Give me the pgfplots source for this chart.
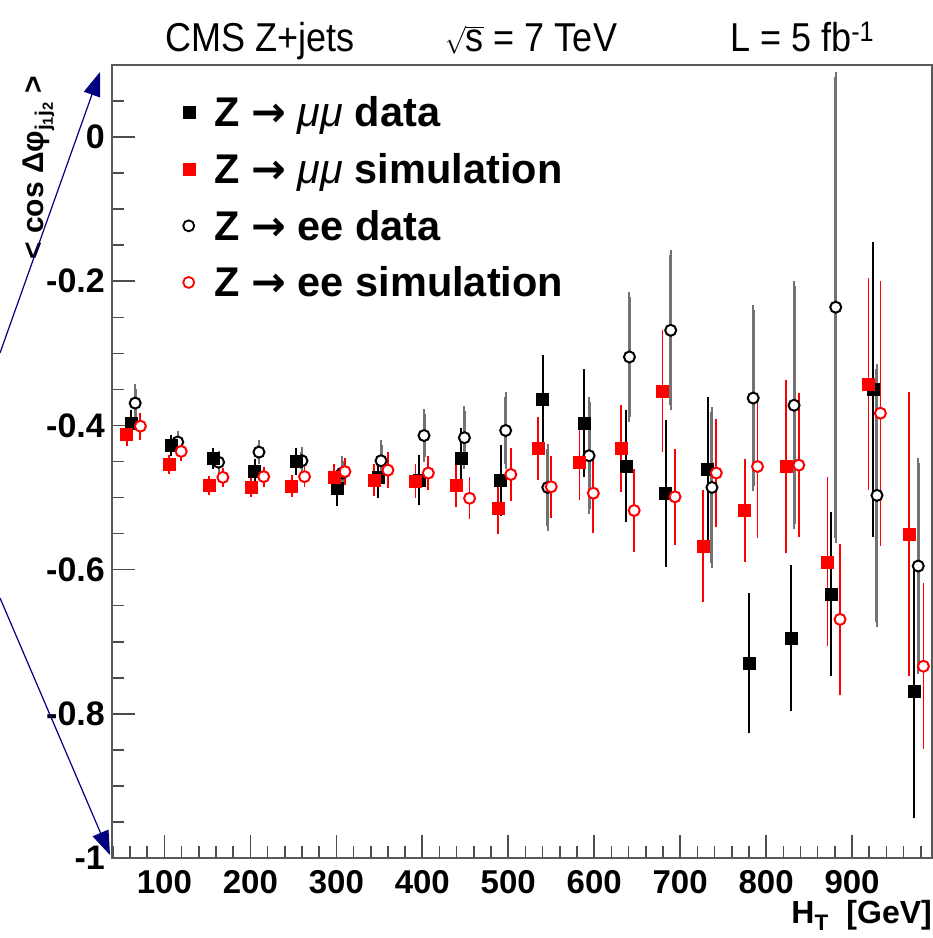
\documentclass[border=0pt]{standalone}
\usepackage{fontspec}
\setmainfont{Liberation Sans}
\newfontfamily\djv{DejaVu Sans}
\usepackage{pgfplots}
\pgfplotsset{compat=1.18}
\usepackage{pgfplotstable}
\usetikzlibrary{arrows.meta}
\definecolor{navy}{RGB}{0,0,128}
\definecolor{rootred}{RGB}{255,0,0}
\newcommand{\arr}{{\djv\bfseries →}}

\pgfplotstableread{
x y e
61 -0.397 0.012
108 -0.428 0.008
157 -0.446 0.008
205 -0.464 0.010
253 -0.450 0.012
301 -0.487 0.018
349 -0.472 0.022
396 -0.476 0.028
445 -0.446 0.035
491 -0.476 0.042
540 -0.364 0.055
588 -0.397 0.068
637 -0.456 0.071
683 -0.494 0.095
732 -0.461 0.093
780 -0.730 0.090
829 -0.695 0.094
876 -0.634 0.107
924 -0.350 0.198
972 -0.768 0.170
}\mumudata

\pgfplotstableread{
x y e
56 -0.412 0.010
105 -0.454 0.006
152 -0.483 0.006
201 -0.486 0.007
248 -0.484 0.008
297 -0.472 0.012
344 -0.476 0.015
392 -0.477 0.017
439 -0.483 0.023
488 -0.515 0.028
535 -0.432 0.037
583 -0.451 0.046
631 -0.432 0.053
679.5 -0.352 0.078
727 -0.567 0.071
775 -0.518 0.065
823 -0.457 0.113
871.5 -0.589 0.110
919 -0.343 0.140
966 -0.551 0.190
}\mumusim

\pgfplotstableread{
x y e
66 -0.369 0.020
115.5 -0.423 0.008
163 -0.451 0.008
210 -0.437 0.010
260 -0.449 0.012
307 -0.466 0.016
352 -0.449 0.022
402 -0.414 0.030
449 -0.417 0.037
497 -0.407 0.046
546 -0.486 0.053
594 -0.442 0.074
641 -0.305 0.083
689 -0.268 0.104
737 -0.486 0.105
785 -0.362 0.122
832.5 -0.372 0.165
881 -0.236 0.320
929 -0.497 0.175
977 -0.595 0.143
}\eedata

\pgfplotstableread{
x y e
72 -0.401 0.012
119.5 -0.436 0.006
168 -0.472 0.006
215.5 -0.471 0.007
263 -0.471 0.008
310 -0.464 0.012
360 -0.462 0.018
407 -0.466 0.017
455 -0.501 0.022
503 -0.468 0.030
550 -0.485 0.036
599 -0.494 0.048
646.5 -0.518 0.050
694 -0.499 0.060
742 -0.466 0.068
790 -0.457 0.092
838 -0.455 0.093
886 -0.669 0.098
933 -0.383 0.177
983 -0.734 0.108
}\eesim

\begin{document}
\begin{tikzpicture}
\useasboundingbox (-112pt,-80pt) rectangle (821pt,858pt);
\begin{axis}[
  at={(0pt,0pt)}, anchor=south west,
  scale only axis, width=820pt, height=793pt,
  xmin=39, xmax=993, ymin=-1, ymax=0.1,
  axis line style={black!65, line width=2pt},
  tick align=inside, tick pos=left,
  major tick length=23pt, minor tick length=12pt,
  every tick/.style={black!70, line width=1.6pt},
  xtick={100,200,...,900},
  xticklabels={100,200,300,400,500,600,700,800,900},
  minor xtick={40,60,...,980},
  ytick={-1,-0.8,-0.6,-0.4,-0.2,0},
  yticklabels={-1,-0.8,-0.6,-0.4,-0.2,0},
  minor ytick={-0.95,-0.9,-0.85,-0.75,-0.7,-0.65,-0.55,-0.5,-0.45,-0.35,-0.3,-0.25,-0.15,-0.1,-0.05,0.05},
  xticklabel style={font=\bfseries\fontsize{33}{36}\selectfont, inner sep=0pt, anchor=north, yshift=-12pt},
  yticklabel style={font=\bfseries\fontsize{34}{36}\selectfont, inner sep=0pt, anchor=east, xshift=-7pt},
  xlabel={H\textsubscript{T}\ \ [GeV]},
  xlabel style={font=\bfseries\fontsize{32}{36}\selectfont, inner sep=0pt, at={(rel axis cs:1,0)}, anchor=north east, yshift=-42pt},
  ylabel={< cos Δφ\textsubscript{j\textsubscript{1}j\textsubscript{2}} >},
  ylabel style={font=\bfseries\fontsize{30}{34}\selectfont, inner sep=0pt, at={(axis description cs:-0.084,0.987)}, anchor=base east, rotate=0},
  legend style={at={(axis description cs:0.086,0.960)}, anchor=north west, draw=none, fill=none, inner sep=0pt,
     nodes={inner sep=0pt},
     font=\bfseries\fontsize{41.5}{46}\selectfont, row sep=25pt, legend cell align=left,
     /tikz/every odd column/.append style={column sep=20pt}},
  clip=false,
]
\addlegendimage{only marks, mark=square*, mark size=6pt, black}
\addlegendentry{Z \arr{} \textit{\mdseries μμ} data}
\addlegendimage{only marks, mark=square*, mark size=6pt, rootred}
\addlegendentry{Z \arr{} \textit{\mdseries μμ} simulation}
\addlegendimage{only marks, mark=*, mark size=5.5pt, mark options={fill=white, draw=black, line width=1.8pt}}
\addlegendentry{Z \arr{} ee data}
\addlegendimage{only marks, mark=*, mark size=5.5pt, mark options={fill=white, draw=rootred, line width=1.8pt}}
\addlegendentry{Z \arr{} ee simulation}

\addplot[forget plot, only marks, mark=*, mark size=5.5pt, mark options={fill=white, draw=black, line width=2pt},
  error bars/.cd, y dir=both, y explicit,
  error bar style={black!55, line width=3pt},
  error mark options={black!55, line width=2pt, mark size=5pt}]
  table[x=x, y=y, y error=e] {\eedata};
\addplot[forget plot, only marks, mark=square*, mark size=6pt, black,
  error bars/.cd, y dir=both, y explicit,
  error bar style={black, line width=2pt},
  error mark options={black, line width=2pt, mark size=5pt}]
  table[x=x, y=y, y error=e] {\mumudata};
\addplot[forget plot, only marks, mark=*, mark size=5.5pt, mark options={fill=white, draw=rootred, line width=2pt},
  error bars/.cd, y dir=both, y explicit,
  error bar style={rootred, line width=1.8pt},
  error mark options={rootred, line width=1.8pt, mark size=5pt}]
  table[x=x, y=y, y error=e] {\eesim};
\addplot[forget plot, only marks, mark=square*, mark size=6pt, rootred,
  error bars/.cd, y dir=both, y explicit,
  error bar style={rootred, line width=1.8pt},
  error mark options={rootred, line width=1.8pt, mark size=5pt}]
  table[x=x, y=y, y error=e] {\mumusim};
\end{axis}
\node[anchor=base west, inner sep=0pt, font=\fontsize{36}{40}\selectfont, yscale=1.12] at (53pt,806pt) {CMS Z+jets};
\node[anchor=base west, inner sep=0pt, font=\fontsize{36}{40}\selectfont, yscale=1.12] at (333pt,806pt) {$\sqrt{\mbox{s}}$ = 7 TeV};
\node[anchor=base west, inner sep=0pt, font=\fontsize{36}{40}\selectfont, yscale=1.12] at (618pt,806pt) {L = 5 fb\textsuperscript{-1}};
\draw[navy, line width=1.2pt, -{Triangle[length=24pt,width=17pt]}] (-112pt,505pt) -- (-12pt,786pt);
\draw[navy, line width=1.2pt, -{Triangle[length=24pt,width=17pt]}] (-112pt,260pt) -- (-2pt,3pt);
\end{tikzpicture}
\end{document}
